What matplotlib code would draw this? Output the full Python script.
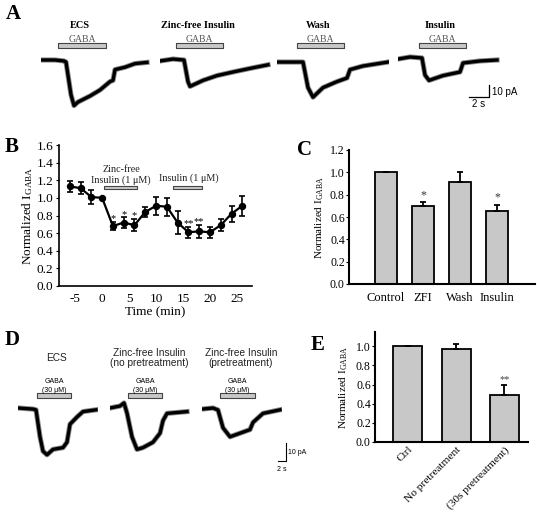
import matplotlib
matplotlib.use("Agg")
import matplotlib.pyplot as plt

W, H = 537, 516
SERIF = "Liberation Serif"
SANS = "Liberation Sans"
plt.rcParams["font.family"] = SERIF
plt.rcParams["mathtext.fontset"] = "custom"
plt.rcParams["mathtext.rm"] = SERIF
plt.rcParams["mathtext.it"] = SERIF + ":italic"
plt.rcParams["axes.unicode_minus"] = False

# ---------------- data ----------------
# A: example currents, time (s) / current (pA, baseline = 0)
a_titles = ["ECS", "Zinc-free Insulin", "Wash", "Insulin"]
a_ecs_t = [0, 1.4, 2.3, 2.5, 3.0, 3.3, 3.7, 4.9, 5.9, 6.9, 7.2, 7.4, 8.4, 9.4, 10.6]
a_ecs_i = [0, 0, -0.8, -1.7, -29, -38, -35, -30, -25, -18, -17, -8, -6, -3, -2]
a_zfi_t = [0, 1.3, 2.4, 2.8, 3.0, 4.3, 5.7, 7.3, 9.0, 10.8]
a_zfi_i = [-0.8, 0.8, 0, -18, -22, -17, -13, -10, -7, -4]
a_wash_t = [0, 2.6, 3.1, 3.6, 4.6, 6.0, 7.0, 7.3, 8.6, 11.1]
a_wash_i = [-1.7, -1.7, -23, -31, -23, -18, -15, -8, -5, -1.7]
a_ins_t = [0, 1.2, 2.4, 2.7, 3.1, 4.5, 6.2, 6.5, 8.2, 9.9]
a_ins_i = [0.8, 2.5, 1.7, -12.5, -17, -13, -10, -2.5, -0.8, 0]
a_gaba = [(1.7, 6.5), (1.6, 6.3), (2.0, 6.7), (2.1, 6.8)]

# B: time course
b_time = [-6, -4, -2, 0, 2, 4, 6, 8, 10, 12, 14, 16, 18, 20, 22, 24, 26]
b_norm = [1.13, 1.11, 1.01, 1.00, 0.68, 0.72, 0.69, 0.84, 0.91, 0.90,
          0.72, 0.61, 0.62, 0.61, 0.69, 0.82, 0.91]
b_err = [0.065, 0.07, 0.075, 0.0, 0.045, 0.06, 0.07, 0.055, 0.10, 0.10,
         0.13, 0.065, 0.07, 0.065, 0.07, 0.09, 0.115]
b_stars = {2: "*", 4: "*", 6: "*", 16: "**", 18: "**"}
b_zfi_period = (0.4, 6.5)
b_ins_period = (13.1, 18.5)

# C: summary
c_labels = ["Control", "ZFI", "Wash", "Insulin"]
c_values = [1.00, 0.70, 0.91, 0.65]
c_err = [0.0, 0.03, 0.09, 0.06]
c_stars = ["", "*", "", "*"]

# D: pretreatment traces, time (s) / current (pA)
d_titles = ["ECS", "Zinc-free Insulin\n(no pretreatment)", "Zinc-free Insulin\n(pretreatment)"]
d_ecs_t = [0, 3.75, 4.5, 5.5, 6.25, 7.25, 8.75, 11.25, 12.25, 13, 14.75, 16.25, 19.5]
d_ecs_i = [0, -0.6, -1, -16, -24, -26, -23, -22, -19, -9, -5, -2, -1]
d_nopre_t = [0, 2.5, 3.5, 4.25, 5.5, 6.75, 8.25, 10.75, 12.5, 13.25, 14.25, 19.25]
d_nopre_i = [0, 1.1, 2.8, -2.8, -16, -23, -22, -19, -14, -7, -3, -2]
d_pre_t = [0, 2.75, 4, 5.25, 7, 9.5, 12, 12.75, 15.25, 19.5]
d_pre_i = [-0.6, 0, -1.1, -11, -16, -14, -12, -8, -3, -1]
d_gaba = [(4.75, 13.25), (4.5, 13.0), (4.5, 13.25)]

# E: summary
e_labels = ["Ctrl", "No pretreatment", "(30s pretreatment)"]
e_values = [1.00, 0.97, 0.49]
e_err = [0.0, 0.05, 0.11]
e_stars = ["", "", "**"]

scale_t, scale_i = 2, 10   # scale bars: 2 s, 10 pA

fig = plt.figure(figsize=(W / 100, H / 100), dpi=100)


def ax_px(left, top, right, bottom):
    return fig.add_axes([left / W, 1 - bottom / H, (right - left) / W, (bottom - top) / H])


def trace_axes(left, top, bottom, width, px_s, px_pa, base):
    ax = ax_px(left, top, left + width, bottom)
    ax.set_xlim(0, width / px_s)
    ax.set_ylim((base - bottom) / px_pa, (base - top) / px_pa)
    ax.axis("off")
    return ax


def draw_trace(ax, t, i, lw):
    ax.plot(t, i, color="#8a8a8a", lw=lw + 1.3, solid_joinstyle="round")
    ax.plot(t, i, color="black", lw=lw, solid_joinstyle="round")


def panel_letter(x, y, s):
    fig.text(x / W, 1 - y / H, s, fontsize=15, fontweight="bold", family=SERIF,
             ha="center", va="center")


# ---------------- A ----------------
panel_letter(13, 14, "A")
a_traces = [(a_ecs_t, a_ecs_i), (a_zfi_t, a_zfi_i), (a_wash_t, a_wash_i), (a_ins_t, a_ins_i)]
a_left = [41, 160, 277, 398]
for k, (t, i) in enumerate(a_traces):
    ax = trace_axes(a_left[k], 18, 118, 112, 10, 1.2, 60)
    draw_trace(ax, t, i, 2.4)
    g0, g1 = a_gaba[k]
    ax.broken_barh([(g0, g1 - g0)], (10.3, 4.2), facecolors="#c8c8c8",
                   edgecolors="#444444", linewidth=0.8)
    ax.text((g0 + g1) / 2, 17.5, "GABA", color="#555555", fontsize=7,
            ha="center", va="center")
    ax.text((g0 + g1) / 2 - 0.2, 28.5, a_titles[k], fontsize=7.4, fontweight="bold",
            ha="center", va="center")
    if k == 3:
        sx = 9.1
        sy = -30.8
        ax.plot([sx - scale_t, sx, sx], [sy, sy, sy + scale_i], color="black", lw=0.9,
                clip_on=False)
        ax.text(sx + 0.3, sy + scale_i / 2 - 0.5, "10 pA", family=SANS, fontsize=7,
                ha="left", va="center")
        ax.text(sx - scale_t / 2, sy - 5.5, "2 s", family=SANS, fontsize=7,
                ha="center", va="center")

# ---------------- B ----------------
panel_letter(12, 147, "B")
axb = ax_px(59, 145, 252, 286)
axb.errorbar(b_time, b_norm, yerr=b_err, fmt="o-", color="black", ms=4.3, lw=1.6,
             elinewidth=1.2, capsize=2.5, capthick=1.2)
for t, s in b_stars.items():
    k = b_time.index(t)
    axb.annotate(s, (t, b_norm[k] + b_err[k]), xytext=(0, -1), textcoords="offset points",
                 ha="center", va="bottom", fontsize=7.5)
for (p0, p1) in (b_zfi_period, b_ins_period):
    axb.broken_barh([(p0, p1 - p0)], (1.10, 0.04), facecolors="#c8c8c8",
                    edgecolors="#444444", linewidth=0.8)
axb.text(3.5, 1.26, "Zinc-free\nInsulin (1 μM)", fontsize=7.3, ha="center", va="center",
         linespacing=1.3, color="#222222")
axb.text(16.0, 1.22, "Insulin (1 μM)", fontsize=7.3, ha="center", va="center",
         color="#222222")
axb.set_xlim(-8, 27.8)
axb.set_ylim(0, 1.6)
axb.set_xticks([-5, 0, 5, 10, 15, 20, 25])
axb.set_yticks([0, 0.2, 0.4, 0.6, 0.8, 1.0, 1.2, 1.4, 1.6])
axb.set_yticklabels([f"{v:.1f}" for v in axb.get_yticks()])
axb.tick_params(labelsize=9.5, length=2, width=0.8, pad=2)
axb.tick_params(axis="x", length=0, pad=5)
axb.set_xlabel("Time (min)", fontsize=9.5, labelpad=1)
axb.set_ylabel(r"Normalized I$_{\rm GABA}$", fontsize=9.5, labelpad=1)
for sp in ("top", "right"):
    axb.spines[sp].set_visible(False)
for sp in ("left", "bottom"):
    axb.spines[sp].set_linewidth(1.2)

# ---------------- C ----------------
panel_letter(304, 150, "C")
axc = ax_px(349, 150, 535, 284)
xc = list(range(len(c_labels)))
axc.bar(xc, c_values, width=0.6, color="#c8c8c8", edgecolor="black", linewidth=1.3)
axc.errorbar(xc, c_values, yerr=[[0] * len(c_err), c_err], fmt="none", ecolor="black",
             elinewidth=1.3, capsize=2.5, capthick=1.3)
for k, s in enumerate(c_stars):
    if s:
        axc.annotate(s, (xc[k], c_values[k] + c_err[k]), xytext=(0, 1),
                     textcoords="offset points", ha="center", va="bottom", fontsize=8.5,
                     color="#333333")
axc.set_xlim(-1.0, 4.03)
axc.set_ylim(0, 1.2)
axc.set_xticks(xc)
axc.set_xticklabels(c_labels)
axc.set_yticks([0, 0.2, 0.4, 0.6, 0.8, 1.0, 1.2])
axc.set_yticklabels([f"{v:.1f}" for v in axc.get_yticks()])
axc.tick_params(axis="x", length=0, labelsize=9, pad=6)
axc.tick_params(axis="y", length=2, width=0.8, labelsize=8.5, pad=1)
axc.set_ylabel(r"Normalized I$_{\rm GABA}$", fontsize=8, labelpad=3)
for sp in ("top", "right"):
    axc.spines[sp].set_visible(False)
for sp in ("left", "bottom"):
    axc.spines[sp].set_linewidth(1.5)

# ---------------- D ----------------
panel_letter(12, 340, "D")
d_traces = [(d_ecs_t, d_ecs_i), (d_nopre_t, d_nopre_i), (d_pre_t, d_pre_i)]
d_left = [18, 110, 202]
for k, (t, i) in enumerate(d_traces):
    ax = trace_axes(d_left[k], 340, 472, 80, 4, 1.8, 408)
    draw_trace(ax, t, i, 2.4)
    g0, g1 = d_gaba[k]
    ax.broken_barh([(g0, g1 - g0)], (5.5, 2.8), facecolors="#c8c8c8",
                   edgecolors="#444444", linewidth=0.8)
    ax.text((g0 + g1) / 2, 12.2, "GABA\n(30 μM)", family=SANS, fontsize=5,
            ha="center", va="center", linespacing=1.4)
    ax.text(9.7, 27.8, d_titles[k], family=SANS, fontsize=7.3, ha="center",
            va="center", linespacing=1.05, color="#222222")
    if k == 2:
        sx = 21.0
        sy = -29.5
        ax.plot([sx - scale_t, sx, sx], [sy, sy, sy + scale_i], color="black", lw=0.8,
                clip_on=False)
        ax.text(sx + 0.5, sy + scale_i / 2, "10 pA", family=SANS, fontsize=5,
                ha="left", va="center")
        ax.text(sx - scale_t / 2, sy - 4.5, "2 s", family=SANS, fontsize=5,
                ha="center", va="center")

# ---------------- E ----------------
panel_letter(318, 345, "E")
axe = ax_px(375, 332, 528, 442)
xe = list(range(len(e_labels)))
axe.bar(xe, e_values, width=0.6, color="#c8c8c8", edgecolor="black", linewidth=1.3)
axe.errorbar(xe, e_values, yerr=[[0] * len(e_err), e_err], fmt="none", ecolor="black",
             elinewidth=1.3, capsize=2.5, capthick=1.3)
for k, s in enumerate(e_stars):
    if s:
        axe.annotate(s, (xe[k], e_values[k] + e_err[k]), xytext=(0, 0),
                     textcoords="offset points", ha="center", va="bottom", fontsize=7.5,
                     color="#444444")
axe.set_xlim(-0.68, 2.49)
axe.set_ylim(0, 1.15)
axe.set_xticks(xe)
axe.set_xticklabels(e_labels, rotation=45, ha="right", rotation_mode="anchor")
axe.set_yticks([0, 0.2, 0.4, 0.6, 0.8, 1.0])
axe.set_yticklabels([f"{v:.1f}" for v in axe.get_yticks()])
axe.tick_params(axis="x", length=0, labelsize=8.2, pad=2)
axe.tick_params(axis="y", length=2, width=0.8, labelsize=8.5, pad=1)
axe.set_ylabel(r"Normalized I$_{\rm GABA}$", fontsize=8, labelpad=4)
for sp in ("top", "right"):
    axe.spines[sp].set_visible(False)
for sp in ("left", "bottom"):
    axe.spines[sp].set_linewidth(1.5)

fig.savefig("out.png", dpi=100)
